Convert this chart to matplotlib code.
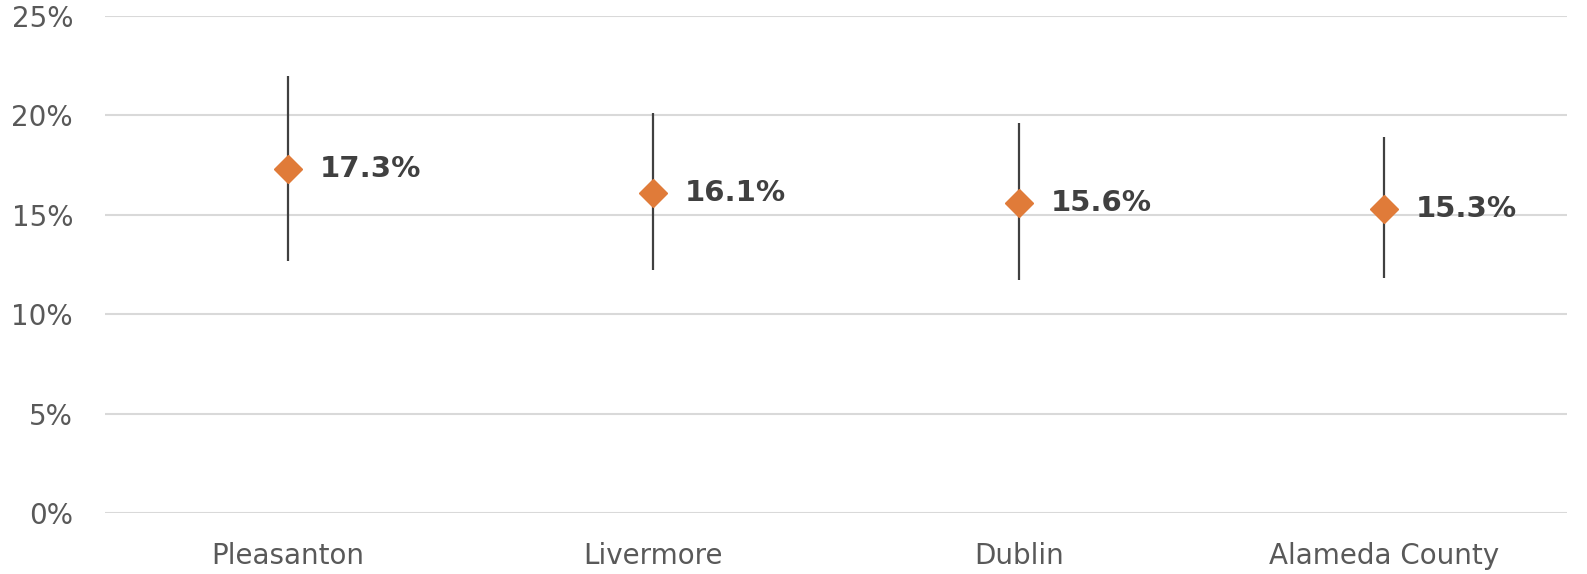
import matplotlib
matplotlib.use("Agg")
import matplotlib.pyplot as plt
from matplotlib.ticker import FuncFormatter

categories = ["Pleasanton", "Livermore", "Dublin", "Alameda County"]
values = [17.3, 16.1, 15.6, 15.3]
upper = [22.0, 20.1, 19.6, 18.9]
lower = [12.7, 12.2, 11.7, 11.8]
labels = ["17.3%", "16.1%", "15.6%", "15.3%"]
yticks = [0, 5, 10, 15, 20, 25]

plt.rcParams['font.family'] = ['DejaVu Sans']

fig = plt.figure(figsize=(15.87, 5.74), dpi=100)
ax = fig.add_axes([105/1587, 1 - 513/574, (1567-105)/1587, (513-16)/574])

x = list(range(len(categories)))
yerr = [[v - l for v, l in zip(values, lower)], [u - v for u, v in zip(upper, values)]]
ax.errorbar(x, values, yerr=yerr, fmt='none', ecolor='#404040', elinewidth=1.6, capsize=0, zorder=2)
ax.plot(x, values, linestyle='none', marker='D', markersize=14.5, color='#E07B39',
        markeredgecolor='#E07B39', zorder=3)
for xi, v, lab in zip(x, values, labels):
    ax.annotate(lab, (xi, v), xytext=(23, 0), textcoords='offset points',
                va='center', ha='left', fontsize=21, fontweight='bold', color='#404040')

ax.set_xlim(-0.5, len(categories) - 0.5)
ax.set_ylim(0, 25)
ax.set_yticks(yticks)
ax.yaxis.set_major_formatter(FuncFormatter(lambda v, p: f"{v:.0f}%"))
ax.set_xticks(x)
ax.set_xticklabels(categories)
ax.tick_params(axis='both', length=0, labelsize=20, colors='#595959')
ax.tick_params(axis='x', pad=21)
ax.tick_params(axis='y', pad=23)
ax.grid(axis='y', color='#D9D9D9', linewidth=1.5)
ax.set_axisbelow(True)
for s in ax.spines.values():
    s.set_visible(False)

fig.savefig("out.png", dpi=100)
